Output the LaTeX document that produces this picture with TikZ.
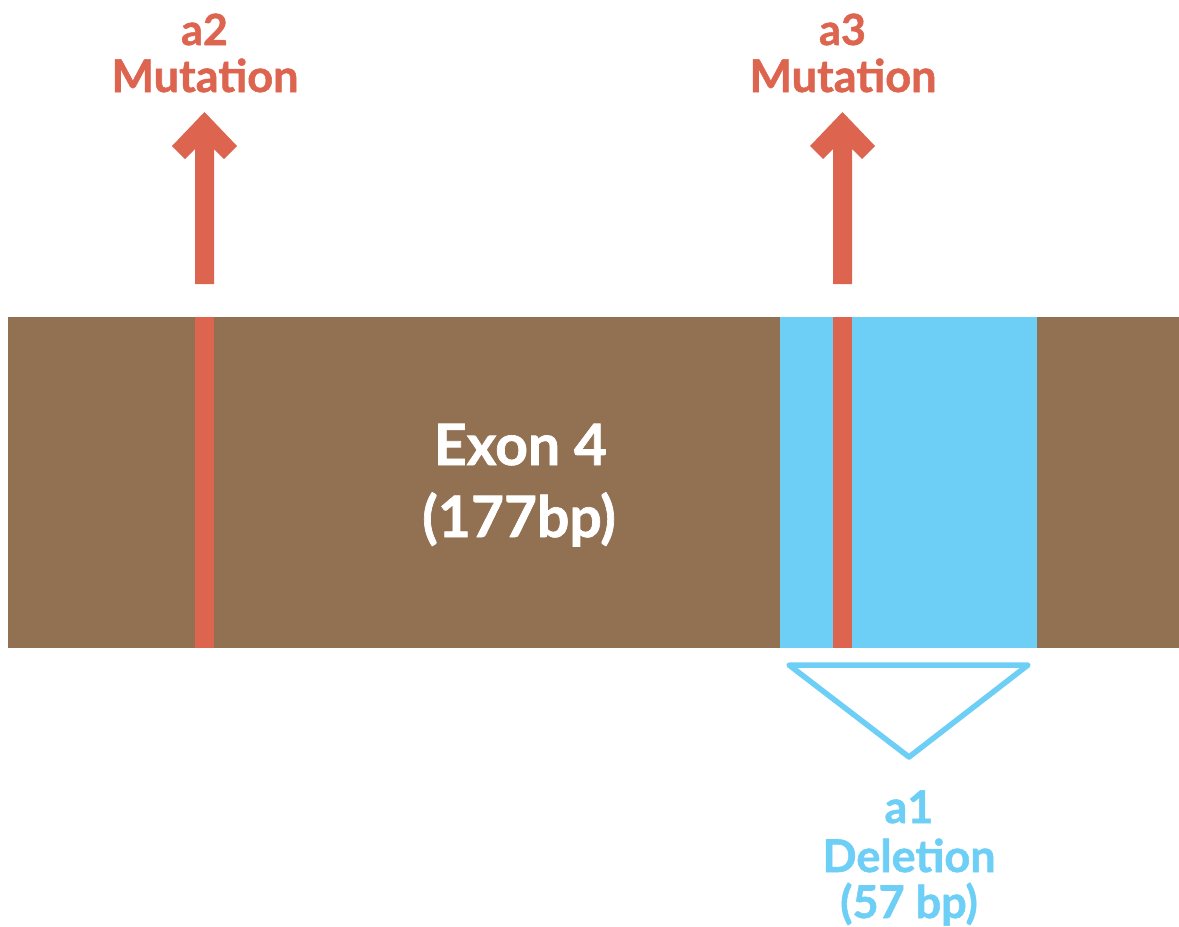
\documentclass[tikz,border=0pt]{standalone}
\usepackage{fontspec}
\setmainfont{Lato}[BoldFeatures={FakeBold=1.2}]
\definecolor{brownband}{HTML}{927052}
\definecolor{delblue}{HTML}{6DCFF6}
\definecolor{mutred}{HTML}{DD644E}
\tikzset{
  lbl/.style={anchor=base, inner sep=0pt, font=\bfseries\fontsize{45}{45}\selectfont},
  smalllbl/.style={anchor=base, inner sep=0pt, font=\bfseries\fontsize{43}{43}\selectfont},
  exonlbl/.style={anchor=base, inner sep=0pt, text=white, font=\bfseries\fontsize{57}{57}\selectfont},
  dellbl/.style={anchor=base, inner sep=0pt, text=delblue, font=\bfseries\fontsize{45}{45}\selectfont},
  stripe/.style={fill=mutred, draw=none},
  uparrow/.style={fill=mutred, draw=none},
}
\begin{document}
\begin{tikzpicture}[x=1pt,y=-1pt]
\useasboundingbox (0,0) rectangle (1179,927);
% band
\fill[brownband] (8,317) rectangle (1179,648);
\fill[delblue] (780,317) rectangle (1037,648);
\fill[stripe] (195,317) rectangle (214,648);
\fill[stripe] (833,317) rectangle (852,648);
\coordinate (s2) at (204.5,317);
\coordinate (s3) at (842.5,317);
% arrows
\foreach \cx in {204.5,842.5}{
  \fill[uparrow] (\cx-9.5,284) -- (\cx-9.5,149) -- (\cx-19.5,159) -- (\cx-32.5,146)
    -- (\cx,112) -- (\cx+32.5,146) -- (\cx+19.5,159) -- (\cx+9.5,149) -- (\cx+9.5,284) -- cycle;
}
% labels top
\node[smalllbl, text=mutred] (a2) at (204.5,45) {a2};
\node[lbl, text=mutred] (m2) at (205,92) {Mutation};
\node[smalllbl, text=mutred] (a3) at (842.5,45) {a3};
\node[lbl, text=mutred] (m3) at (843,92) {Mutation};
% exon label
\node[exonlbl] (exon) at (520.5,465) {Exon 4};
\node[exonlbl] (len) at (519,537) {(177bp)};
% deletion triangle
\draw[delblue, line width=5.5pt, line join=round, line cap=round] (789,665) -- (1028,665) -- (909,757) -- cycle;
% deletion labels
\node[dellbl] (a1) at (909,823) {a1};
\node[dellbl] (del) at (909,872) {Deletion};
\node[dellbl] (bp) at (909,918) {(57 bp)};
\end{tikzpicture}
\end{document}
